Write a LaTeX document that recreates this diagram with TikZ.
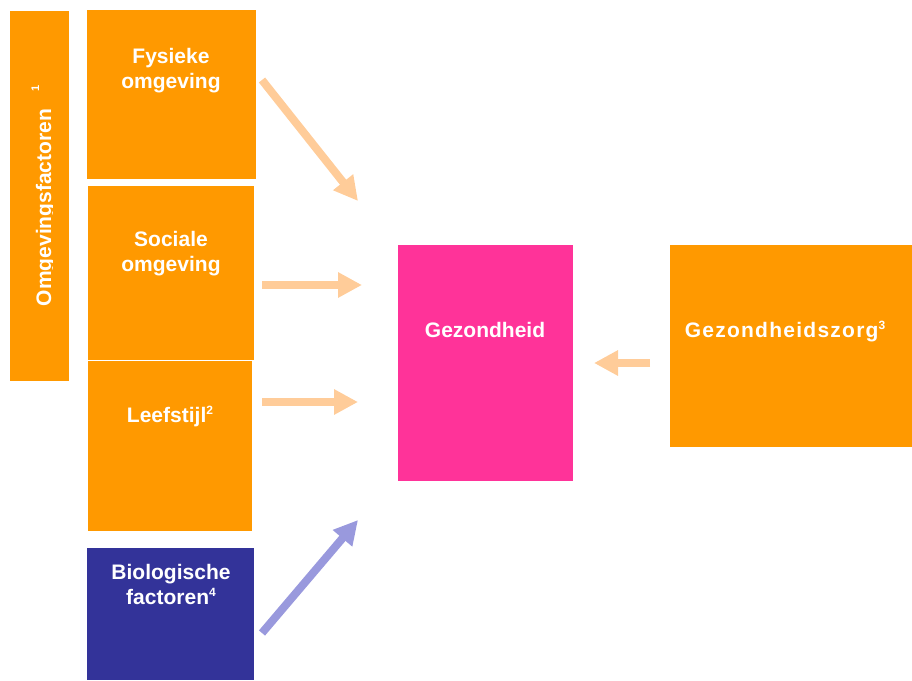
\documentclass[tikz,border=0pt]{standalone}
\usepackage{fontspec}
\setmainfont{Liberation Sans}
\usetikzlibrary{arrows.meta}
\definecolor{oranje}{HTML}{FF9900}
\definecolor{roze}{HTML}{FF3399}
\definecolor{donkerblauw}{HTML}{333399}
\definecolor{lichtoranje}{HTML}{FFCC99}
\definecolor{lichtblauw}{HTML}{9999DD}
\newcommand{\voetnr}[1]{\raisebox{8pt}{\fontsize{12}{13}\selectfont #1}}

\begin{document}
\begin{tikzpicture}[x=1pt,y=-1pt,
    blok/.style={fill=oranje, inner sep=0pt, outer sep=0pt, anchor=north west},
    tekst/.style={text=white, font=\bfseries\fontsize{21}{25}\selectfont, align=center},
    pijl/.style={line width=8pt, draw=lichtoranje, -{Triangle[length=24pt,width=24pt]}}]
    \useasboundingbox (0,0) rectangle (912,680);

    % blokken
    \node[blok, minimum width=59pt, minimum height=370pt] (omg) at (10,11) {};
    \node[blok, minimum width=169pt, minimum height=169pt] (fys) at (87,10) {};
    \node[blok, minimum width=166pt, minimum height=174pt] (soc) at (88,186) {};
    \node[blok, minimum width=164pt, minimum height=170pt] (leef) at (88,361) {};
    \node[blok, fill=donkerblauw, minimum width=167pt, minimum height=132pt] (bio) at (87,548) {};
    \node[blok, fill=roze, minimum width=175pt, minimum height=236pt] (gez) at (398,245) {};
    \node[blok, minimum width=242pt, minimum height=202pt] (zorg) at (670,245) {};

    % teksten
    \begin{scope}
        \clip (10,11) rectangle (52,381);
        \node[tekst, rotate=90, anchor=base] (omgtxt) at (51,196)
            {Omgevingsfactoren\hspace{17pt}\raisebox{12pt}{\fontsize{11}{12}\selectfont 1}};
    \end{scope}
    \node[tekst] (fystxt) at (171,71) {Fysieke\\omgeving};
    \node[tekst] (soctxt) at (171,254) {Sociale\\omgeving};
    \node[tekst, anchor=base] (leeftxt) at (170,422) {Leefstijl\voetnr{2}};
    \node[tekst] (biotxt) at (171,584) {Biologische\\factoren\voetnr{4}};
    \node[tekst, anchor=base] (geztxt) at (485,337) {Gezondheid};
    \node[tekst, anchor=base] (zorgtxt) at (785,337)
        {\addfontfeatures{LetterSpace=6}Gezondheidszorg\voetnr{3}};

    % pijlen
    \coordinate (fysuit) at (262,80);
    \coordinate (socuit) at (262,285);
    \coordinate (leefuit) at (262,402);
    \coordinate (biouit) at (262,633);
    \coordinate (zorguit) at (650,363);
    \coordinate (gezin1) at (358,201);
    \coordinate (gezin2) at (362,285);
    \coordinate (gezin3) at (358,402);
    \coordinate (gezin4) at (358,520);
    \coordinate (gezin5) at (594,363);
    \draw[pijl] (fysuit) -- (gezin1);
    \draw[pijl] (socuit) -- (gezin2);
    \draw[pijl] (leefuit) -- (gezin3);
    \draw[pijl, draw=lichtblauw] (biouit) -- (gezin4);
    \draw[pijl] (zorguit) -- (gezin5);
\end{tikzpicture}
\end{document}
